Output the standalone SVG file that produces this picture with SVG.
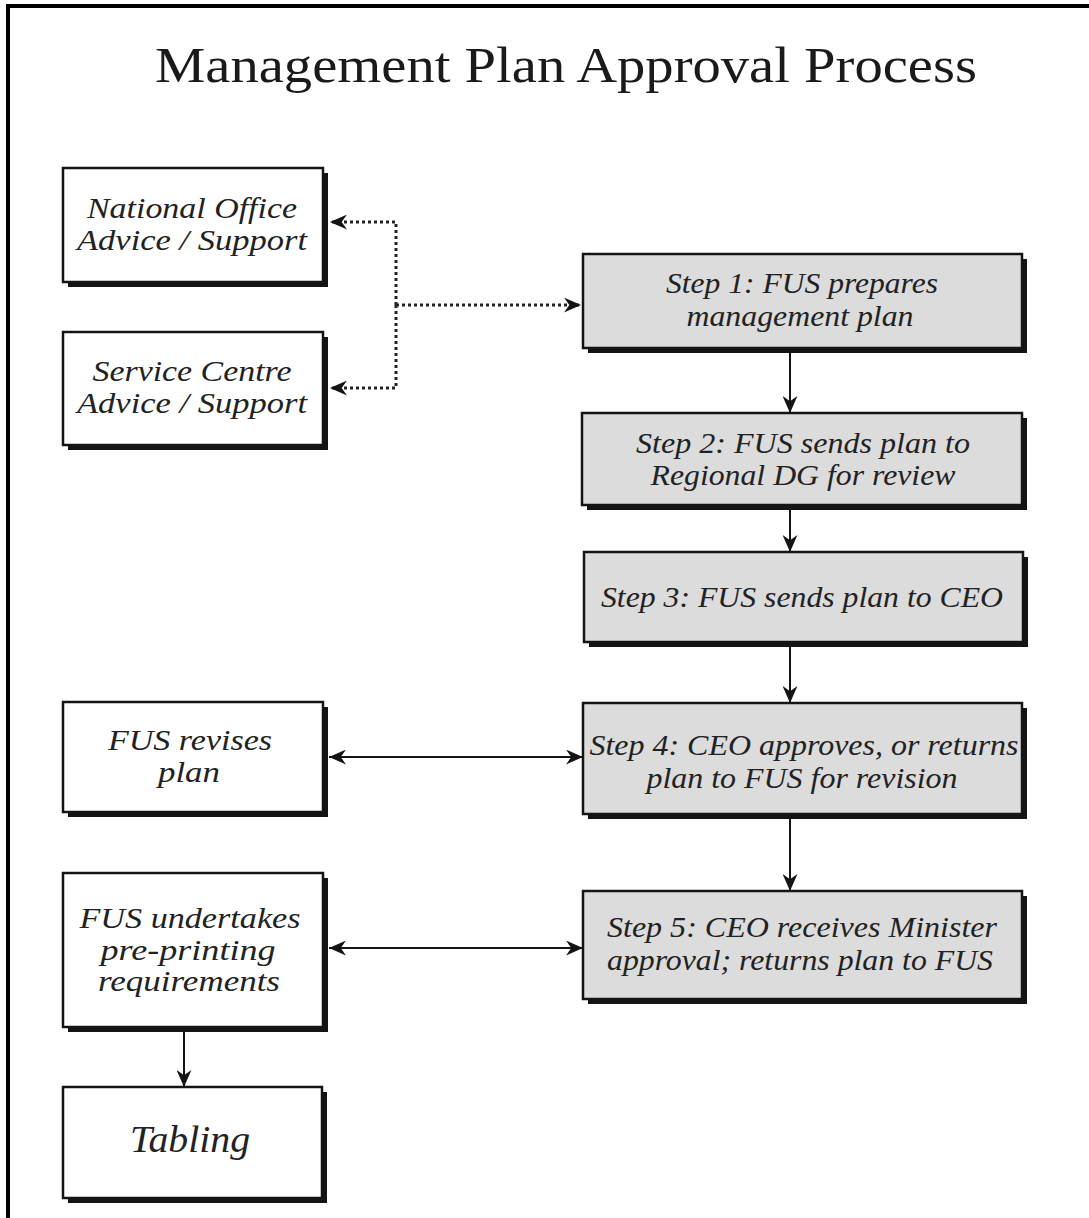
<svg xmlns="http://www.w3.org/2000/svg" width="1089" height="1218" viewBox="0 0 1089 1218">
  <style>
    .shadow { fill: #141414; }
    .box { fill: #ffffff; stroke: #141414; stroke-width: 2.5; }
    .step { fill: #dcdcdc; stroke: #141414; stroke-width: 2.5; }
    .label { font-family: "Liberation Serif", "Times New Roman", serif; font-style: italic; font-size: 30px; fill: #222; text-anchor: middle; }
    .big { font-size: 38px; }
    .title { font-family: "Liberation Serif", "Times New Roman", serif; font-size: 50px; fill: #1a1a1a; text-anchor: middle; }
    .flow { fill: none; stroke: #141414; stroke-width: 2; }
    .dotted { fill: none; stroke: #222; stroke-width: 3; stroke-dasharray: 3 3; }
  </style>
  <defs>
    <marker id="arrow" viewBox="0 0 16 14" refX="16" refY="7" markerWidth="17" markerHeight="15" markerUnits="userSpaceOnUse" orient="auto-start-reverse">
      <path d="M0,0 L16,7 L0,14 L5,7 z" fill="#141414"/>
    </marker>
  </defs>

  <rect width="1089" height="1218" fill="#ffffff"/>
  <!-- outer frame (left and top edges) -->
  <path d="M8,1218 V6 H1089" fill="none" stroke="#000" stroke-width="4"/>

  <text class="title" x="566" y="82" textLength="822" lengthAdjust="spacingAndGlyphs">Management Plan Approval Process</text>

  <g id="national-office">
    <rect class="shadow" x="68" y="173" width="260" height="114"/>
    <rect class="box" x="63" y="168" width="260" height="114"/>
    <text class="label" x="192" y="218" textLength="210" lengthAdjust="spacingAndGlyphs">National Office</text>
    <text class="label" x="192" y="250" textLength="230" lengthAdjust="spacingAndGlyphs">Advice / Support</text>
  </g>

  <g id="service-centre">
    <rect class="shadow" x="68" y="337" width="260" height="113"/>
    <rect class="box" x="63" y="332" width="260" height="113"/>
    <text class="label" x="192" y="381" textLength="199" lengthAdjust="spacingAndGlyphs">Service Centre</text>
    <text class="label" x="192" y="413" textLength="230" lengthAdjust="spacingAndGlyphs">Advice / Support</text>
  </g>

  <g id="step1">
    <rect class="shadow" x="588" y="259" width="439" height="94"/>
    <rect class="step" x="583" y="254" width="439" height="94"/>
    <text class="label" x="802" y="293" textLength="272" lengthAdjust="spacingAndGlyphs">Step 1: FUS prepares</text>
    <text class="label" x="800" y="326" textLength="227" lengthAdjust="spacingAndGlyphs">management plan</text>
  </g>

  <g id="step2">
    <rect class="shadow" x="587" y="418" width="440" height="92"/>
    <rect class="step" x="582" y="413" width="440" height="92"/>
    <text class="label" x="803" y="453" textLength="334" lengthAdjust="spacingAndGlyphs">Step 2: FUS sends plan to</text>
    <text class="label" x="803" y="485" textLength="305" lengthAdjust="spacingAndGlyphs">Regional DG for review</text>
  </g>

  <g id="step3">
    <rect class="shadow" x="589" y="557" width="439" height="90"/>
    <rect class="step" x="584" y="552" width="439" height="90"/>
    <text class="label" x="802" y="607" textLength="402" lengthAdjust="spacingAndGlyphs">Step 3: FUS sends plan to CEO</text>
  </g>

  <g id="step4">
    <rect class="shadow" x="588" y="708" width="439" height="111"/>
    <rect class="step" x="583" y="703" width="439" height="111"/>
    <text class="label" x="804" y="755" textLength="429" lengthAdjust="spacingAndGlyphs">Step 4: CEO approves, or returns</text>
    <text class="label" x="802" y="788" textLength="311" lengthAdjust="spacingAndGlyphs">plan to FUS for revision</text>
  </g>

  <g id="step5">
    <rect class="shadow" x="588" y="896" width="439" height="108"/>
    <rect class="step" x="583" y="891" width="439" height="108"/>
    <text class="label" x="802" y="937" textLength="390" lengthAdjust="spacingAndGlyphs">Step 5: CEO receives Minister</text>
    <text class="label" x="800" y="970" textLength="386" lengthAdjust="spacingAndGlyphs">approval; returns plan to FUS</text>
  </g>

  <g id="fus-revises">
    <rect class="shadow" x="68" y="707" width="260" height="110"/>
    <rect class="box" x="63" y="702" width="260" height="110"/>
    <text class="label" x="190" y="750" textLength="164" lengthAdjust="spacingAndGlyphs">FUS revises</text>
    <text class="label" x="189" y="782" textLength="62" lengthAdjust="spacingAndGlyphs">plan</text>
  </g>

  <g id="fus-undertakes">
    <rect class="shadow" x="68" y="878" width="260" height="154"/>
    <rect class="box" x="63" y="873" width="260" height="154"/>
    <text class="label" x="190" y="928" textLength="221" lengthAdjust="spacingAndGlyphs">FUS undertakes</text>
    <text class="label" x="188" y="960" textLength="175" lengthAdjust="spacingAndGlyphs">pre-printing</text>
    <text class="label" x="189" y="991" textLength="182" lengthAdjust="spacingAndGlyphs">requirements</text>
  </g>

  <g id="tabling">
    <rect class="shadow" x="68" y="1092" width="259" height="111"/>
    <rect class="box" x="63" y="1087" width="259" height="111"/>
    <text class="label big" x="190" y="1152" textLength="120" lengthAdjust="spacingAndGlyphs">Tabling</text>
  </g>

  <g id="connectors">
    <!-- advice / support links -->
    <path class="dotted" d="M396,305 H581" marker-end="url(#arrow)"/>
    <path class="dotted" d="M396,305 V222 H330" marker-end="url(#arrow)"/>
    <path class="dotted" d="M396,305 V388 H330" marker-end="url(#arrow)"/>
    <!-- main step sequence -->
    <path class="flow" d="M790,353 V413" marker-end="url(#arrow)"/>
    <path class="flow" d="M790,510 V552" marker-end="url(#arrow)"/>
    <path class="flow" d="M790,647 V703" marker-end="url(#arrow)"/>
    <path class="flow" d="M790,819 V891" marker-end="url(#arrow)"/>
    <!-- two-way exchanges -->
    <path class="flow" d="M329,757 H583" marker-start="url(#arrow)" marker-end="url(#arrow)"/>
    <path class="flow" d="M329,948 H583" marker-start="url(#arrow)" marker-end="url(#arrow)"/>
    <!-- to tabling -->
    <path class="flow" d="M184,1032 V1087" marker-end="url(#arrow)"/>
  </g>
</svg>
